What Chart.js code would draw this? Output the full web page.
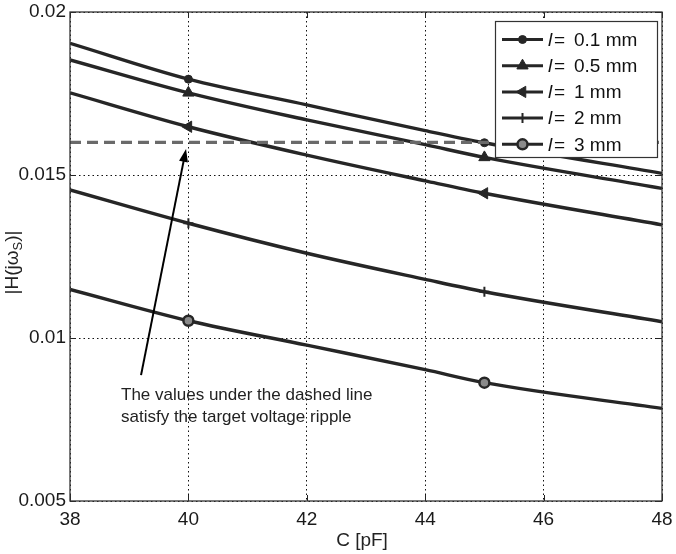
<!DOCTYPE html>
<html>
<head>
<meta charset="utf-8">
<script src="https://cdn.jsdelivr.net/npm/chart.js@4.4.1/dist/chart.umd.min.js"></script>
<style>
  html, body { margin: 0; padding: 0; background: #fff; }
  canvas { display: block; }
</style>
</head>
<body>
<canvas id="rippleChart" width="676" height="554"></canvas>
<script>
// capacitance (pF) and |H(jw_s)| for each trace length
const capValues = [38, 40, 42, 44, 45, 48];
const markedAt = [40, 45];
const lengthLabels = ['0.1 mm', '0.5 mm', '1 mm', '2 mm', '3 mm'];
const h01 = [0.01904, 0.01794, 0.01715, 0.01636, 0.01599, 0.01505];
const h05 = [0.01853, 0.01752, 0.01669, 0.01593, 0.01554, 0.01459];
const h1 = [0.01752, 0.01648, 0.01561, 0.01482, 0.01444, 0.01347];
const h2 = [0.01454, 0.01352, 0.01260, 0.01180, 0.01142, 0.01050];
const h3 = [0.01149, 0.01053, 0.00978, 0.00903, 0.00863, 0.00784];
const targetRipple = 0.016;
const xTickLabels = ['38', '40', '42', '44', '46', '48'];
const yTickLabels = ['0.005', '0.01', '0.015', '0.02'];
const noteLines = ['The values under the dashed line', 'satisfy the target voltage ripple'];
const arrowFrom = { x: 39.2, y: 0.00886 };
const arrowTo = { x: 39.96, y: 0.0158 };

const INK = '#262626';
const FONT = '"Liberation Sans", Arial, Helvetica, sans-serif';

const markerStyles = [
    { pointStyle: 'circle', radius: 4, rotation: 0, bg: INK, borderWidth: 1 },
    { pointStyle: 'triangle', radius: 6.5, rotation: 0, bg: INK, borderWidth: 1 },
    { pointStyle: 'triangle', radius: 6.5, rotation: 270, bg: INK, borderWidth: 1 },
    { pointStyle: 'cross', radius: 5, rotation: 0, bg: INK, borderWidth: 2 },
    { pointStyle: 'circle', radius: 5, rotation: 0, bg: '#8a8a8a', borderWidth: 2.5 }
];

function makeSeries(label, values, style) {
    return {
        label: label,
        data: capValues.map((c, i) => ({ x: c, y: values[i] })),
        borderColor: INK,
        borderWidth: 3.4,
        cubicInterpolationMode: 'monotone',
        pointStyle: style.pointStyle,
        pointRotation: style.rotation,
        pointRadius: capValues.map(c => markedAt.includes(c) ? style.radius : 0),
        pointBackgroundColor: style.bg,
        pointBorderColor: INK,
        pointBorderWidth: style.borderWidth,
        isTrace: true
    };
}

const traceSeries = [h01, h05, h1, h2, h3].map((vals, i) =>
    makeSeries(lengthLabels[i], vals, markerStyles[i]));

const targetSeries = {
    label: 'target',
    data: [{ x: 38, y: targetRipple }, { x: 48, y: targetRipple }],
    borderColor: '#6a6a6a',
    borderWidth: 3.2,
    borderDash: [11, 6],
    pointRadius: 0,
    isTrace: false
};

// box, inward ticks, legend, annotation and axis titles
const decorations = {
    id: 'decorations',
    afterDraw(chart) {
        const ctx = chart.ctx;
        const area = chart.chartArea;
        const xs = chart.scales.x;
        const ys = chart.scales.y;
        ctx.save();

        // inward tick marks on all four sides
        ctx.strokeStyle = '#222';
        ctx.lineWidth = 1;
        ctx.setLineDash([]);
        ctx.beginPath();
        xTickLabels.forEach(t => {
            const px = Math.round(xs.getPixelForValue(Number(t))) + 0.5;
            ctx.moveTo(px, area.bottom); ctx.lineTo(px, area.bottom - 6);
            ctx.moveTo(px, area.top); ctx.lineTo(px, area.top + 6);
        });
        yTickLabels.forEach(t => {
            const py = Math.round(ys.getPixelForValue(Number(t))) + 0.5;
            ctx.moveTo(area.left, py); ctx.lineTo(area.left + 6, py);
            ctx.moveTo(area.right, py); ctx.lineTo(area.right - 6, py);
        });
        ctx.stroke();

        // axes box
        ctx.strokeStyle = '#333';
        ctx.lineWidth = 1.3;
        ctx.strokeRect(area.left, area.top, area.right - area.left, area.bottom - area.top);

        // annotation arrow
        const ax0 = xs.getPixelForValue(arrowFrom.x), ay0 = ys.getPixelForValue(arrowFrom.y);
        const ax1 = xs.getPixelForValue(arrowTo.x), ay1 = ys.getPixelForValue(arrowTo.y);
        const ang = Math.atan2(ay1 - ay0, ax1 - ax0);
        const headLen = 13, headHalf = 4.5;
        ctx.strokeStyle = '#000';
        ctx.fillStyle = '#000';
        ctx.lineWidth = 2;
        ctx.beginPath();
        ctx.moveTo(ax0, ay0);
        ctx.lineTo(ax1 - Math.cos(ang) * headLen * 0.8, ay1 - Math.sin(ang) * headLen * 0.8);
        ctx.stroke();
        ctx.beginPath();
        ctx.moveTo(ax1, ay1);
        ctx.lineTo(ax1 - Math.cos(ang) * headLen - Math.sin(ang) * headHalf,
                   ay1 - Math.sin(ang) * headLen + Math.cos(ang) * headHalf);
        ctx.lineTo(ax1 - Math.cos(ang) * headLen + Math.sin(ang) * headHalf,
                   ay1 - Math.sin(ang) * headLen - Math.cos(ang) * headHalf);
        ctx.closePath();
        ctx.fill();

        // note text
        ctx.fillStyle = '#222';
        ctx.font = '17px ' + FONT;
        ctx.textAlign = 'left';
        ctx.textBaseline = 'middle';
        noteLines.forEach((line, i) => ctx.fillText(line, 121, 395 + i * 22));

        // legend
        const lx = 495, ly = 21, lw = 162, lh = 136;
        ctx.fillStyle = '#fff';
        ctx.fillRect(lx, ly, lw, lh);
        ctx.strokeStyle = '#333';
        ctx.lineWidth = 1.2;
        ctx.strokeRect(lx + 0.5, ly + 0.5, lw, lh);
        chart.data.datasets.filter(d => d.isTrace).forEach((ds, i) => {
            const ry = 39.5 + i * 26.2;
            ctx.strokeStyle = INK;
            ctx.lineWidth = 3;
            ctx.beginPath();
            ctx.moveTo(502, ry); ctx.lineTo(543, ry);
            ctx.stroke();
            const st = markerStyles[i];
            ctx.fillStyle = st.bg;
            ctx.strokeStyle = INK;
            ctx.lineWidth = st.borderWidth;
            Chart.helpers.drawPoint(ctx, {
                pointStyle: st.pointStyle, radius: st.radius,
                rotation: st.rotation, borderWidth: st.borderWidth
            }, 522.5, ry);
            ctx.fillStyle = '#111';
            ctx.textBaseline = 'middle';
            ctx.font = 'italic 19px ' + FONT;
            ctx.fillText('l', 548, ry + 1);
            ctx.font = '19px ' + FONT;
            ctx.fillText('=', 554, ry + 1);
            ctx.fillText(ds.label, 574, ry + 1);
        });

        // x axis title
        ctx.fillStyle = '#222';
        ctx.font = '19px ' + FONT;
        ctx.textAlign = 'center';
        ctx.fillText('C [pF]', (area.left + area.right) / 2 - 4, 541);

        // y axis title with subscript
        ctx.translate(13, (area.top + area.bottom) / 2 + 6);
        ctx.rotate(-Math.PI / 2);
        ctx.textAlign = 'left';
        const partA = '|H(j\u03c9', partS = 'S', partB = ')|';
        ctx.font = '19px ' + FONT;
        const wA = ctx.measureText(partA).width, wB = ctx.measureText(partB).width;
        ctx.font = '13px ' + FONT;
        const wS = ctx.measureText(partS).width;
        let cx = -(wA + wS + wB) / 2;
        ctx.font = '19px ' + FONT;
        ctx.fillText(partA, cx, 0);
        cx += wA;
        ctx.font = '13px ' + FONT;
        ctx.fillText(partS, cx, 5);
        cx += wS;
        ctx.font = '19px ' + FONT;
        ctx.fillText(partB, cx, 0);

        ctx.restore();
    }
};

new Chart(document.getElementById('rippleChart'), {
    type: 'line',
    data: { datasets: [targetSeries, ...traceSeries] },
    options: {
        responsive: false,
        animation: false,
        events: [],
        layout: { padding: { top: 12, right: 14, left: 0, bottom: 0 } },
        plugins: {
            legend: { display: false },
            tooltip: { enabled: false }
        },
        scales: {
            x: {
                type: 'linear',
                min: 38,
                max: 48,
                afterFit: scale => {
                    scale.height = 53;
                    scale.paddingLeft = 0;
                    scale.paddingRight = 0;
                },
                ticks: {
                    stepSize: 2,
                    color: '#1a1a1a',
                    font: { family: FONT, size: 19 },
                    padding: 7,
                    maxRotation: 0,
                    callback: (value, index) => xTickLabels[index]
                },
                grid: { color: '#111', lineWidth: 1, drawTicks: false },
                border: { display: false, dash: [1.5, 3] }
            },
            y: {
                min: 0.005,
                max: 0.02,
                afterFit: scale => {
                    scale.width = 70;
                    scale.paddingTop = 0;
                    scale.paddingBottom = 0;
                },
                ticks: {
                    stepSize: 0.005,
                    color: '#1a1a1a',
                    font: { family: FONT, size: 19 },
                    padding: 4,
                    callback: (value, index) => yTickLabels[index]
                },
                grid: { color: '#111', lineWidth: 1, drawTicks: false },
                border: { display: false, dash: [1.5, 3] }
            }
        }
    },
    plugins: [decorations]
});
</script>
</body>
</html>
